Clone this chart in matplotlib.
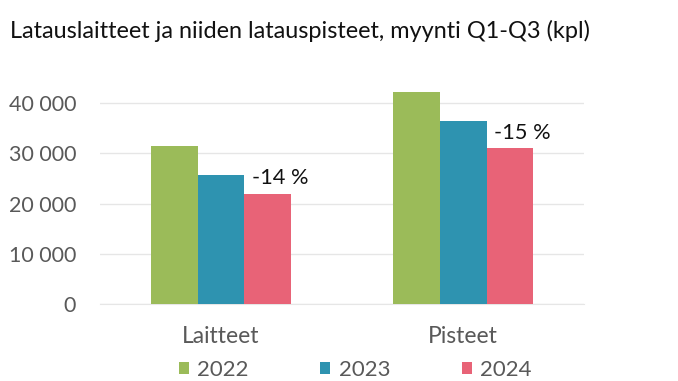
"""Charging devices and charging points sold in Q1-Q3, grouped bars by year."""

import matplotlib.pyplot as plt
import numpy as np

TITLE = "Latauslaitteet ja niiden latauspisteet, myynti Q1-Q3 (kpl)"
CATEGORIES = ["Laitteet", "Pisteet"]
YEARS = ["2022", "2023", "2024"]
SALES_2022 = [31400, 42250]
SALES_2023 = [25600, 36450]
SALES_2024 = [21900, 31050]
CHANGE_LABELS = ["-14 %", "-15 %"]
YTICKS = [0, 10000, 20000, 30000, 40000]

COLORS = ["#9BBB59", "#2E93B0", "#E86377"]


def fmt_thousands(v):
    return f"{int(v):,}".replace(",", " ")


def main():
    plt.rcParams["font.family"] = ["Lato", "DejaVu Sans"]
    fig = plt.figure(figsize=(6.78, 3.81), dpi=100)
    ax = fig.add_axes([0.147, 0.202, 0.715, 0.58])

    x = np.arange(len(CATEGORIES))
    width = 0.1925
    series = [SALES_2022, SALES_2023, SALES_2024]
    for i, (year, vals) in enumerate(zip(YEARS, series)):
        ax.bar(x + (i - 1) * width, vals, width, color=COLORS[i], label=year, zorder=3)

    for xi, val, lab in zip(x, SALES_2024, CHANGE_LABELS):
        ax.annotate(lab, (xi + width, val), xytext=(9, 4), textcoords="offset points",
                    ha="center", va="bottom", fontsize=15.7, color="#111111")

    ax.set_xlim(-0.5, 1.5)
    ax.set_ylim(0, 44000)
    ax.set_yticks(YTICKS)
    ax.set_yticklabels([fmt_thousands(v) for v in YTICKS])
    ax.set_xticks(x)
    ax.set_xticklabels(CATEGORIES)
    ax.tick_params(axis="both", length=0, colors="#595959")
    ax.tick_params(axis="y", pad=17, labelsize=15.5)
    ax.tick_params(axis="x", pad=16, labelsize=16.5)
    ax.grid(axis="y", color="#E6E6E6", linewidth=1, zorder=0)
    for side in ["top", "right", "left"]:
        ax.spines[side].set_visible(False)
    ax.spines["bottom"].set_color("#E6E6E6")

    fig.text(0.015, 0.92, TITLE, fontsize=16.9, color="#111111", va="center")

    leg = fig.legend(loc="center", bbox_to_anchor=(0.524, 0.03), ncol=3, frameon=False,
                     fontsize=16, handlelength=0.45, handleheight=0.45, handletextpad=0.4,
                     columnspacing=3.2)
    for t in leg.get_texts():
        t.set_color("#595959")

    fig.savefig("out.png", dpi=100)


if __name__ == "__main__":
    main()
